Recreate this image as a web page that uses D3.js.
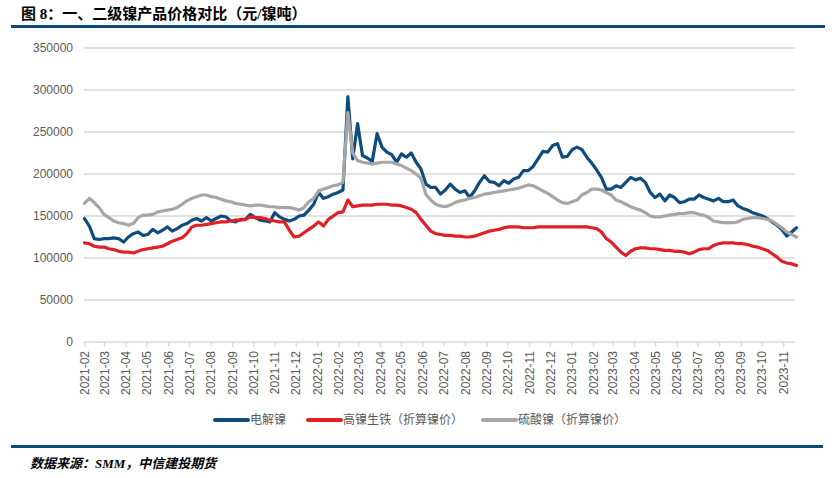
<!DOCTYPE html>
<html><head><meta charset="utf-8">
<script src="https://cdn.jsdelivr.net/npm/d3@7"></script>
<style>
html,body{margin:0;padding:0;background:#fff;}
svg{display:block;}
</style></head>
<body>
<svg id="chart" width="834" height="478"></svg>
<script>
// ---- data (weekly samples, unit: 元/镍吨, in thousands) ----
const firstWeek = "2021-02-01";
const stepDays = 7;
const seriesNames = ["电解镍", "高镍生铁（折算镍价）", "硫酸镍（折算镍价）"];
const electrolyticNickel = [
 147,138,123,122,123,123,124,123,119,125,129,131,127,128,134,130,133,137,132,135,
 139,141,145,147,144,148,144,147,150,149,144,143,146,146,152,148,145,144,143,154,
 149,146,144,146,150,151,157,164,178,171,173,176,178,181,292,218,260,222,219,215,
 248,232,226,223,214,224,220,225,214,206,188,184,184,176,181,188,182,178,180,172,
 180,190,198,191,190,186,192,189,194,196,204,204,209,218,227,226,234,236,220,221,
 229,232,229,220,213,205,196,182,182,186,184,190,196,193,195,190,178,172,176,168,
 175,172,166,167,170,170,175,172,170,168,171,167,167,169,162,159,157,154,152,150,
 147,143,139,134,126,131,136];
const nickelPigIron = [
 118,117,114,113,113,111,110,108,107,107,106,108,110,111,112,113,114,117,120,122,
 124,129,137,139,139,140,141,142,143,143,144,145,145,146,149,148,148,147,145,144,
 143,143,133,125,126,130,134,138,143,138,146,150,154,155,169,161,162,163,163,163,
 164,164,164,163,163,162,160,158,154,146,139,132,129,128,127,127,126,126,125,125,
 126,128,130,132,133,134,136,137,137,137,136,136,136,137,137,137,137,137,137,137,
 137,137,137,137,136,135,131,123,119,113,107,103,108,111,112,112,111,111,110,109,
 109,108,108,107,105,107,110,111,111,115,117,118,118,118,117,117,116,114,113,111,
 109,105,101,96,94,93,91];
const nickelSulfate = [
 165,171,166,160,152,148,144,142,141,139,141,148,151,151,152,155,156,157,158,160,
 164,168,171,173,175,175,173,172,170,168,167,165,164,163,162,163,163,162,161,161,
 160,160,160,159,157,160,167,171,180,182,184,186,187,190,273,225,216,214,213,212,
 213,214,214,214,212,210,207,204,200,195,176,169,164,162,161,163,166,168,169,171,
 172,174,176,177,178,179,180,181,182,183,185,187,186,183,180,177,173,169,166,165,
 167,169,175,178,182,182,181,178,175,169,167,164,161,159,157,154,150,149,149,150,
 151,152,153,153,154,154,152,151,148,144,143,142,142,142,143,146,147,148,148,147,
 146,144,140,136,131,128,125];
const yTicks = [0, 50000, 100000, 150000, 200000, 250000, 300000, 350000];
const colors = ["#0f4c7c", "#e01f27", "#a6a6a6"];

// ---- build ----
const parse = d3.timeParse("%Y-%m-%d");
const t0 = parse(firstWeek);
const dates = electrolyticNickel.map((_, i) => d3.timeDay.offset(t0, i * stepDays));
const series = [electrolyticNickel, nickelPigIron, nickelSulfate];

const svg = d3.select("#chart");

const x = d3.scaleTime().domain([dates[0], dates[dates.length - 1]]).range([84.5, 796.5]);
const y = d3.scaleLinear().domain([0, 350000]).range([342, 48]);

// title
svg.append("text").attr("x", 21).attr("y", 19)
  .attr("font-family", "'Liberation Serif','Noto Sans CJK SC',serif")
  .attr("font-weight", "bold").attr("font-size", 15).attr("fill", "#000")
  .text("图 8：一、二级镍产品价格对比（元/镍吨）");
svg.append("rect").attr("x", 11).attr("y", 25).attr("width", 814).attr("height", 3).attr("fill", "#0b4a78");

// gridlines
const xMax = 795;
svg.append("g").selectAll("line").data(yTicks.slice(1)).join("line")
  .attr("x1", 84).attr("x2", xMax)
  .attr("y1", d => y(d)).attr("y2", d => y(d))
  .attr("stroke", "#d9d9d9").attr("stroke-width", 1.3);

// y axis labels via axis
const yAxis = d3.axisLeft(y).tickValues(yTicks).tickFormat(d3.format("d")).tickSize(0).tickPadding(0);
const gy = svg.append("g").attr("transform", "translate(73,0)").call(yAxis);
gy.select(".domain").remove();
gy.selectAll("text").attr("font-family", "'Liberation Sans',Arial,sans-serif")
  .attr("font-size", 12).attr("fill", "#595959");

// x axis
const months = d3.timeMonth.range(d3.timeMonth.ceil(dates[0]), dates[dates.length - 1]);
const xAxis = d3.axisBottom(x).tickValues(months).tickFormat(d3.timeFormat("%Y-%m")).tickSize(5).tickSizeOuter(0);
const gx = svg.append("g").attr("transform", "translate(0,342)").call(xAxis);
gx.select(".domain").attr("stroke", "#d9d9d9").attr("stroke-width", 1.3).attr("d", `M84,0H${xMax}`);
gx.selectAll(".tick line").attr("stroke", "#d9d9d9").attr("stroke-width", 1.2);
gx.selectAll("text")
  .attr("font-family", "'Liberation Sans',Arial,sans-serif")
  .attr("font-size", 12).attr("fill", "#595959")
  .attr("text-anchor", "end").attr("dy", "0.35em")
  .attr("transform", "translate(0,3) rotate(-90)")
  .attr("x", -6).attr("y", 0);

// lines
const line = d3.line().x((d, i) => x(dates[i])).y(d => y(d * 1000)).curve(d3.curveLinear);
series.forEach((s, k) => {
  svg.append("path").datum(s).attr("d", line)
    .attr("fill", "none").attr("stroke", colors[k]).attr("stroke-width", 3.2)
    .attr("stroke-linejoin", "round").attr("stroke-linecap", "round");
});

// legend
const legendX = [215, 308, 483];
const lg = svg.append("g");
seriesNames.forEach((n, k) => {
  lg.append("line").attr("x1", legendX[k]).attr("x2", legendX[k] + 33)
    .attr("y1", 420).attr("y2", 420).attr("stroke", colors[k]).attr("stroke-width", 4)
    .attr("stroke-linecap", "round");
  lg.append("text").attr("x", legendX[k] + 35).attr("y", 420).attr("dy", "0.36em")
    .attr("font-family", "'Noto Sans CJK SC',sans-serif").attr("font-size", 12)
    .attr("fill", "#595959").text(n);
});

// footer
svg.append("rect").attr("x", 11).attr("y", 445).attr("width", 812).attr("height", 3).attr("fill", "#0b4a78");
svg.append("text").attr("x", 30).attr("y", 468)
  .attr("font-family", "'Liberation Serif','Noto Sans CJK SC',serif")
  .attr("font-weight", "bold").attr("font-style", "italic").attr("font-size", 13).attr("fill", "#000")
  .text("数据来源：SMM，中信建投期货");
</script>
</body></html>
